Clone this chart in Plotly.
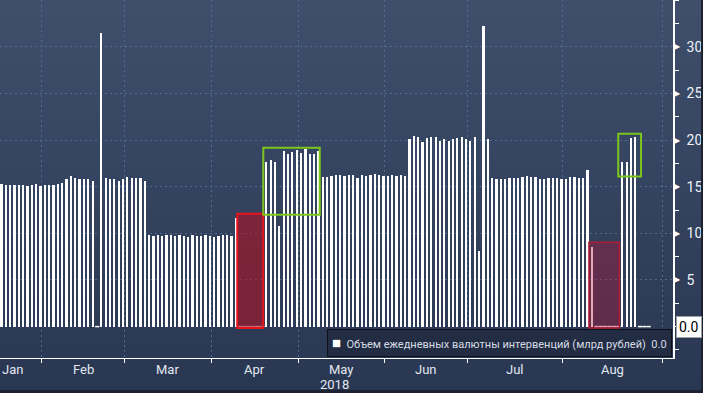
import numpy as np
import pandas as pd
import plotly.graph_objects as go

# ---------------- data ----------------
holidays = ["2018-02-23", "2018-03-08", "2018-03-09", "2018-04-30", "2018-05-01",
            "2018-05-02", "2018-05-09", "2018-06-11", "2018-06-12"]
trading_days = pd.bdate_range("2018-01-18", "2018-08-31", freq="C", holidays=holidays)

jan_vals = [15.3, 15.2, 15.2, 15.2, 15.2, 15.2, 15.1, 15.2, 15.3, 15.1]
feb_vals = [15.2, 15.2, 15.2, 15.3, 15.4, 15.8, 16.2, 15.9, 15.8, 15.8, 15.8, 15.6, 0.0, 31.5,
            15.9, 15.8, 15.8, 15.6, 15.8]
mar_vals = [16.05, 15.9, 15.9, 15.9, 15.6, 9.83, 9.72, 9.83, 9.72, 9.83, 9.83, 9.72, 9.83, 9.72,
            9.6, 9.83, 9.72, 9.72, 9.83, 9.72]
apr_vals = [9.6, 9.72, 9.83, 9.83, 9.72, 11.65, 0.0, 0.0, 0.0, 0.0, 0.0, 0.0, 17.65, 17.9, 17.65,
            10.8, 18.85, 18.5, 18.7, 18.95]
may_vals = [18.6, 19.05, 18.5, 18.5, 18.85, 16.05, 16.05, 16.15, 16.25, 16.25, 16.15, 16.25, 16.25,
            15.95, 16.25, 16.15, 16.25, 16.35, 16.25, 16.15]
jun_vals = [16.15, 16.25, 16.15, 16.25, 16.15, 20.1, 20.45, 20.35, 19.8, 20.2, 20.35, 20.35, 19.9,
            20.1, 19.9, 20.1, 20.2, 20.35, 20.1]
jul_vals = [19.9, 20.35, 8.15, 32.25, 20.1, 15.95, 15.85, 15.85, 15.85, 15.95, 15.95, 15.95, 16.05,
            16.15, 16.05, 16.05, 15.85, 15.85, 15.95, 15.95, 15.9, 15.8]
aug_vals = [15.8, 16.0, 16.1, 15.9, 15.9, 16.8, 8.55, 0.0, 0.0, 0.0, 0.0, 0.0, 0.0, 17.65, 17.65,
            20.2, 20.35, 0.0, 0.0, 0.0]

month_names = ["Jan", "Feb", "Mar", "Apr", "May", "Jun", "Jul", "Aug"]
year_label = "2018"
y_tick_vals = [5, 10, 15, 20, 25, 30]
series_name = "Объем ежедневных валютны интервенций (млрд рублей)"
last_value = 0.0

# highlight boxes (in trading-day slot units / value units)
red_boxes = [(54.5, 60.5, -0.15, 12.1), (135.5, 142.5, -0.15, 9.05)]
green_boxes = [(60.5, 73.5, 12.0, 19.2), (142.25, 147.5, 16.1, 20.7)]

# ---------------- build ----------------
values = jan_vals + feb_vals + mar_vals + apr_vals + may_vals + jun_vals + jul_vals + aug_vals
n_days = len(trading_days)
x_idx = np.arange(len(values))

months = trading_days.month
boundaries = [i - 0.5 for i in range(1, n_days) if months[i] != months[i - 1]] + [n_days - 0.5]
x_range = [-0.14, 154.86]
y_range = [-3.37, 35.04]

bar_w = 0.4
bar_shift = 0.25  # bars drawn on the right side of each day slot

fig = go.Figure()

fig.add_trace(go.Bar(
    x=x_idx, y=values, width=bar_w, offset=bar_shift - bar_w / 2, name=series_name,
    marker=dict(color="white", line=dict(width=0)), showlegend=False, hoverinfo="skip"))

zx = [i + bar_shift for i, v in enumerate(values) if v == 0]
zy = [0 for v in values if v == 0]
fig.add_trace(go.Scatter(
    x=zx, y=zy, mode="markers", showlegend=False, cliponaxis=False, hoverinfo="skip",
    marker=dict(symbol="line-ew", size=3, line=dict(width=1.5, color="white"))))

# background gradient bands
shapes = []
top = np.array([63, 78, 106])
bot = np.array([42, 55, 83])
nb = 24
H = 393
for k in range(nb):
    c = top + (bot - top) * (k / (nb - 1))
    shapes.append(dict(
        type="rect", layer="below", xref="paper", yref="paper",
        xsizemode="pixel", xanchor=0, x0=0, x1=703,
        ysizemode="pixel", yanchor=1, y0=-(k + 1) * H / nb - 1, y1=-k * H / nb,
        fillcolor=f"rgb({int(c[0])},{int(c[1])},{int(c[2])})", line=dict(width=0)))

for (x0, x1, y0, y1), fc, lc, lw in zip(
        red_boxes,
        ["rgba(170,20,35,0.62)", "rgba(185,20,55,0.36)"],
        ["#e8141c", "#b01a35"], [2, 1.5]):
    shapes.append(dict(type="rect", xref="x", yref="y", x0=x0, x1=x1, y0=y0, y1=y1,
                       fillcolor=fc, line=dict(color=lc, width=lw)))
for (x0, x1, y0, y1) in green_boxes:
    shapes.append(dict(type="rect", xref="x", yref="y", x0=x0, x1=x1, y0=y0, y1=y1,
                       fillcolor="rgba(0,0,0,0)", line=dict(color="#7cc61c", width=2)))

# dark frame on right and bottom edges
shapes.append(dict(type="rect", xref="paper", yref="paper", xsizemode="pixel", xanchor=1,
                   x0=28, x1=31, ysizemode="pixel", yanchor=1, y0=-400, y1=2,
                   fillcolor="#1c2231", line=dict(width=0), layer="above"))
shapes.append(dict(type="rect", xref="paper", yref="paper", xsizemode="pixel", xanchor=0,
                   x0=-2, x1=705, ysizemode="pixel", yanchor=0, y0=-40, y1=-32,
                   fillcolor="#1c2231", line=dict(width=0), layer="above"))

annotations = []
label_font = dict(family="Roboto, Liberation Sans, sans-serif", size=13, color="#e2e8f0")
starts = [x_range[0]] + boundaries[:-1]
for mi, name in enumerate(month_names):
    if mi == 0:
        annotations.append(dict(x=x_range[0], y=0, xref="x", yref="paper", text=name,
                                showarrow=False, xanchor="left", yanchor="top", yshift=-2,
                                font=label_font))
    else:
        annotations.append(dict(x=(starts[mi] + boundaries[mi]) / 2, y=0, xref="x", yref="paper",
                                text=name, showarrow=False, xanchor="center", yanchor="top",
                                yshift=-2, font=label_font))
annotations.append(dict(x=0.497, y=0, xref="paper", yref="paper", text=year_label,
                        showarrow=False, xanchor="center", yanchor="top", yshift=-17,
                        font=label_font))
for v in y_tick_vals:
    annotations.append(dict(x=1, y=v, xref="paper", yref="y", text="▶", showarrow=False,
                            xanchor="left", yanchor="middle", xshift=-1,
                            font=dict(family="DejaVu Sans", size=8, color="white")))
annotations.append(dict(x=1, y=last_value, xref="paper", yref="y", text=f"{last_value:.1f}",
                        showarrow=False, xanchor="left", yanchor="middle", xshift=3,
                        bgcolor="white", bordercolor="#9aa0a8", borderwidth=1, borderpad=2,
                        font=dict(family="Roboto, Liberation Sans, sans-serif", size=14,
                                  color="black")))
# legend box (Bloomberg style)
annotations.append(dict(
    x=1, y=0, xref="paper", yref="paper", xanchor="right", yanchor="bottom",
    xshift=-1, yshift=1, showarrow=False, align="left",
    text="<span style='color:white;font-size:15px'>■</span>\u00a0\u00a0" + series_name
         + "\u00a0\u00a0" + f"{last_value:.1f}",
    bgcolor="#222c42", bordercolor="#0e1118", borderwidth=1, borderpad=4,
    font=dict(family="Roboto, Liberation Sans, sans-serif", size=11, color="#d6dce6")))

fig.update_layout(
    width=703, height=393,
    margin=dict(l=0, r=30, t=0, b=35, pad=0),
    paper_bgcolor="#2f3c58", plot_bgcolor="rgba(0,0,0,0)",
    bargap=0,
    shapes=shapes, annotations=annotations,
    showlegend=False,
    xaxis=dict(range=x_range, tickmode="array", tickvals=boundaries, showticklabels=False,
               ticks="outside", ticklen=4, tickcolor="white", tickwidth=1,
               showgrid=True, gridcolor="#4d6c8c", griddash="2px,3px", gridwidth=1,
               showline=True, linecolor="white", linewidth=1, zeroline=False, fixedrange=True),
    yaxis=dict(range=y_range, side="right", tickmode="array", tickvals=y_tick_vals + [35],
               ticktext=[str(v) for v in y_tick_vals] + [""],
               ticks="outside", ticklen=9, tickcolor="rgba(0,0,0,0)",
               tickfont=dict(family="Roboto, Liberation Sans, sans-serif", size=14, color="#eef2f8"),
               minor=dict(ticks="outside", ticklen=4, tickcolor="white", tick0=0, dtick=2.5,
                          showgrid=False),
               showgrid=True, gridcolor="#4d6c8c", griddash="2px,3px", gridwidth=1,
               showline=True, linecolor="white", linewidth=1.5, zeroline=False, fixedrange=True),
)

fig.write_html("out.html", config={"displayModeBar": False},
               post_script="document.body.style.margin='0px';document.body.style.overflow='hidden';")
